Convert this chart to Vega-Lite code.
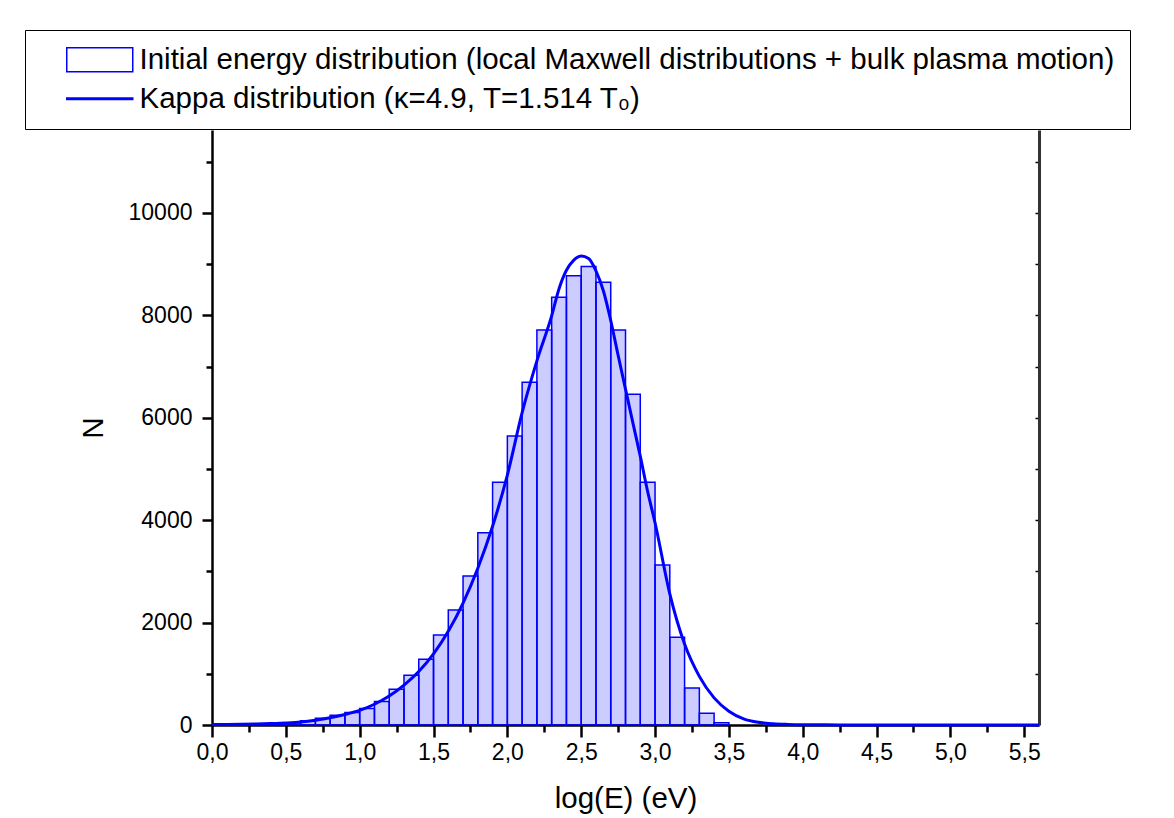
{
  "$schema": "https://vega.github.io/schema/vega-lite/v6.json",
  "width": 827,
  "height": 595,
  "autosize": {"type": "none"},
  "padding": {"left": 212, "top": 130, "right": 135, "bottom": 93},
  "background": "white",
  "config": {"view": {"stroke": null}, "font": "Liberation Sans"},
  "datasets": {
    "hist": [
      {"lo": 0.0, "hi": 0.1, "N": 3},
      {"lo": 0.1, "hi": 0.2, "N": 6},
      {"lo": 0.2, "hi": 0.3, "N": 10},
      {"lo": 0.3, "hi": 0.4, "N": 17},
      {"lo": 0.4, "hi": 0.5, "N": 28},
      {"lo": 0.5, "hi": 0.6, "N": 46},
      {"lo": 0.6, "hi": 0.7, "N": 84},
      {"lo": 0.7, "hi": 0.8, "N": 130},
      {"lo": 0.8, "hi": 0.9, "N": 189},
      {"lo": 0.9, "hi": 1.0, "N": 245},
      {"lo": 1.0, "hi": 1.1, "N": 322},
      {"lo": 1.1, "hi": 1.2, "N": 460},
      {"lo": 1.2, "hi": 1.3, "N": 697},
      {"lo": 1.3, "hi": 1.4, "N": 970},
      {"lo": 1.4, "hi": 1.5, "N": 1283},
      {"lo": 1.5, "hi": 1.6, "N": 1760},
      {"lo": 1.6, "hi": 1.7, "N": 2246},
      {"lo": 1.7, "hi": 1.8, "N": 2910},
      {"lo": 1.8, "hi": 1.9, "N": 3753},
      {"lo": 1.9, "hi": 2.0, "N": 4740},
      {"lo": 2.0, "hi": 2.1, "N": 5645},
      {"lo": 2.1, "hi": 2.2, "N": 6693},
      {"lo": 2.2, "hi": 2.3, "N": 7715},
      {"lo": 2.3, "hi": 2.4, "N": 8353},
      {"lo": 2.4, "hi": 2.5, "N": 8776},
      {"lo": 2.5, "hi": 2.6, "N": 8952},
      {"lo": 2.6, "hi": 2.7, "N": 8646},
      {"lo": 2.7, "hi": 2.8, "N": 7715},
      {"lo": 2.8, "hi": 2.9, "N": 6459},
      {"lo": 2.9, "hi": 3.0, "N": 4740},
      {"lo": 3.0, "hi": 3.1, "N": 3125},
      {"lo": 3.1, "hi": 3.2, "N": 1712},
      {"lo": 3.2, "hi": 3.3, "N": 723},
      {"lo": 3.3, "hi": 3.4, "N": 228},
      {"lo": 3.4, "hi": 3.5, "N": 46}
    ],
    "kappa": [
      {"logE": 0.0, "N": 8},
      {"logE": 0.1, "N": 11},
      {"logE": 0.2, "N": 15},
      {"logE": 0.3, "N": 21},
      {"logE": 0.4, "N": 29},
      {"logE": 0.5, "N": 40},
      {"logE": 0.6, "N": 58},
      {"logE": 0.7, "N": 92},
      {"logE": 0.8, "N": 140},
      {"logE": 0.9, "N": 205},
      {"logE": 1.0, "N": 285},
      {"logE": 1.1, "N": 405},
      {"logE": 1.2, "N": 565},
      {"logE": 1.3, "N": 780},
      {"logE": 1.4, "N": 1045},
      {"logE": 1.5, "N": 1390},
      {"logE": 1.6, "N": 1830},
      {"logE": 1.7, "N": 2380},
      {"logE": 1.8, "N": 3060},
      {"logE": 1.9, "N": 3880},
      {"logE": 2.0, "N": 4880},
      {"logE": 2.1, "N": 6100},
      {"logE": 2.2, "N": 7110},
      {"logE": 2.3, "N": 7990},
      {"logE": 2.35, "N": 8520},
      {"logE": 2.4, "N": 8880},
      {"logE": 2.45, "N": 9080},
      {"logE": 2.5, "N": 9160},
      {"logE": 2.55, "N": 9110},
      {"logE": 2.6, "N": 8870},
      {"logE": 2.65, "N": 8480},
      {"logE": 2.7, "N": 7900},
      {"logE": 2.75, "N": 7220},
      {"logE": 2.8, "N": 6560},
      {"logE": 2.85, "N": 5900},
      {"logE": 2.9, "N": 5250},
      {"logE": 2.95, "N": 4560},
      {"logE": 3.0, "N": 3950},
      {"logE": 3.1, "N": 2560},
      {"logE": 3.2, "N": 1580},
      {"logE": 3.3, "N": 950},
      {"logE": 3.4, "N": 530},
      {"logE": 3.5, "N": 270},
      {"logE": 3.6, "N": 120},
      {"logE": 3.7, "N": 52},
      {"logE": 3.8, "N": 24},
      {"logE": 3.9, "N": 12},
      {"logE": 4.0, "N": 6},
      {"logE": 4.25, "N": 2},
      {"logE": 4.5, "N": 1},
      {"logE": 5.0, "N": 0},
      {"logE": 5.6, "N": 0}
    ],
    "series": [
      {"series": "Initial energy distribution (local Maxwell distributions + bulk plasma motion)"},
      {"series": "Kappa distribution (κ=4.9, T=1.514 T₀)"}
    ]
  },
  "resolve": {"axis": {"x": "independent", "y": "independent"}},
  "layer": [
    {
      "data": {"name": "hist"},
      "mark": {"type": "bar", "fill": "#0000ff", "fillOpacity": 0.2, "stroke": "#0000ff", "strokeWidth": 1.5},
      "encoding": {
        "x": {
          "field": "lo", "type": "quantitative",
          "scale": {"domain": [0, 5.6], "nice": false, "zero": false},
          "axis": {
            "orient": "bottom", "values": [0, 0.5, 1, 1.5, 2, 2.5, 3, 3.5, 4, 4.5, 5, 5.5],
            "labelExpr": "replace(format(datum.value, '.1f'), '.', ',')", "labelFlush": false,
            "grid": false, "tickSize": 12, "tickWidth": 2.5, "tickColor": "black",
            "domainColor": "black", "domainWidth": 2.5,
            "labelFontSize": 23, "labelColor": "black", "labelPadding": 4, "labelFont": "Liberation Sans",
            "title": "log(E) (eV)", "titleFontSize": 29.5, "titleFontWeight": "normal", "titleColor": "black",
            "titleFont": "Liberation Sans", "titlePadding": 20
          }
        },
        "x2": {"field": "hi"},
        "y": {
          "field": "N", "type": "quantitative",
          "scale": {"domain": [0, 11620], "nice": false},
          "axis": {
            "orient": "left", "values": [0, 2000, 4000, 6000, 8000, 10000], "format": "d", "labelFlush": false,
            "grid": false, "tickSize": 10, "tickWidth": 2.5, "tickColor": "black",
            "domainColor": "black", "domainWidth": 2.5,
            "labelFontSize": 23, "labelColor": "black", "labelPadding": 10, "labelFont": "Liberation Sans",
            "title": "N", "titleFontSize": 29.5, "titleFontWeight": "normal", "titleColor": "black",
            "titleFont": "Liberation Sans", "titlePadding": 20
          }
        },
        "y2": {"datum": 0}
      }
    },
    {
      "data": {"name": "kappa"},
      "mark": {"type": "line", "stroke": "#0000ff", "strokeWidth": 3, "interpolate": "monotone"},
      "encoding": {
        "x": {
          "field": "logE", "type": "quantitative",
          "axis": {
            "orient": "bottom", "values": [0.25, 0.75, 1.25, 1.75, 2.25, 2.75, 3.25, 3.75, 4.25, 4.75, 5.25],
            "labels": false, "domain": false, "grid": false, "tickSize": 7, "tickWidth": 2.5,
            "tickColor": "black", "title": null
          }
        },
        "y": {
          "field": "N", "type": "quantitative",
          "axis": {
            "orient": "left", "values": [1000, 3000, 5000, 7000, 9000, 11000],
            "labels": false, "domain": false, "grid": false, "tickSize": 6, "tickWidth": 2.5,
            "tickColor": "black", "title": null
          }
        }
      }
    },
    {
      "data": {"name": "kappa"},
      "mark": {"type": "line", "opacity": 0},
      "encoding": {
        "x": {"field": "logE", "type": "quantitative", "axis": null},
        "y": {
          "field": "N", "type": "quantitative",
          "axis": {
            "orient": "right", "values": [0, 1000, 2000, 3000, 4000, 5000, 6000, 7000, 8000, 9000, 10000, 11000],
            "labels": false, "grid": false, "tickSize": -4, "tickWidth": 1.5, "tickColor": "black",
            "domainColor": "#333333", "domainWidth": 3, "title": null
          }
        }
      }
    },
    {
      "data": {"name": "series"},
      "mark": {"type": "point", "opacity": 0},
      "encoding": {
        "shape": {
          "field": "series", "type": "nominal",
          "scale": {
            "domain": [
              "Initial energy distribution (local Maxwell distributions + bulk plasma motion)",
              "Kappa distribution (κ=4.9, T=1.514 T₀)"
            ],
            "range": ["M1,-1H6.5V1H1Z", "M1,-0.06H6.5V0.06H1Z"]
          },
          "legend": {
            "orient": "none", "legendX": -187, "legendY": -100, "title": null, "direction": "vertical",
            "labelFont": "Liberation Sans", "labelFontSize": 29.5, "labelColor": "black", "labelLimit": 0,
            "symbolSize": 576, "labelOffset": 70, "rowPadding": 8, "padding": 15,
            "symbolFillColor": "rgba(0,0,255,0.2)", "symbolStrokeColor": "#0000ff",
            "symbolStrokeWidth": 1.5, "symbolOpacity": 1,
            "strokeColor": "black", "fillColor": "white"
          }
        }
      }
    }
  ]
}
